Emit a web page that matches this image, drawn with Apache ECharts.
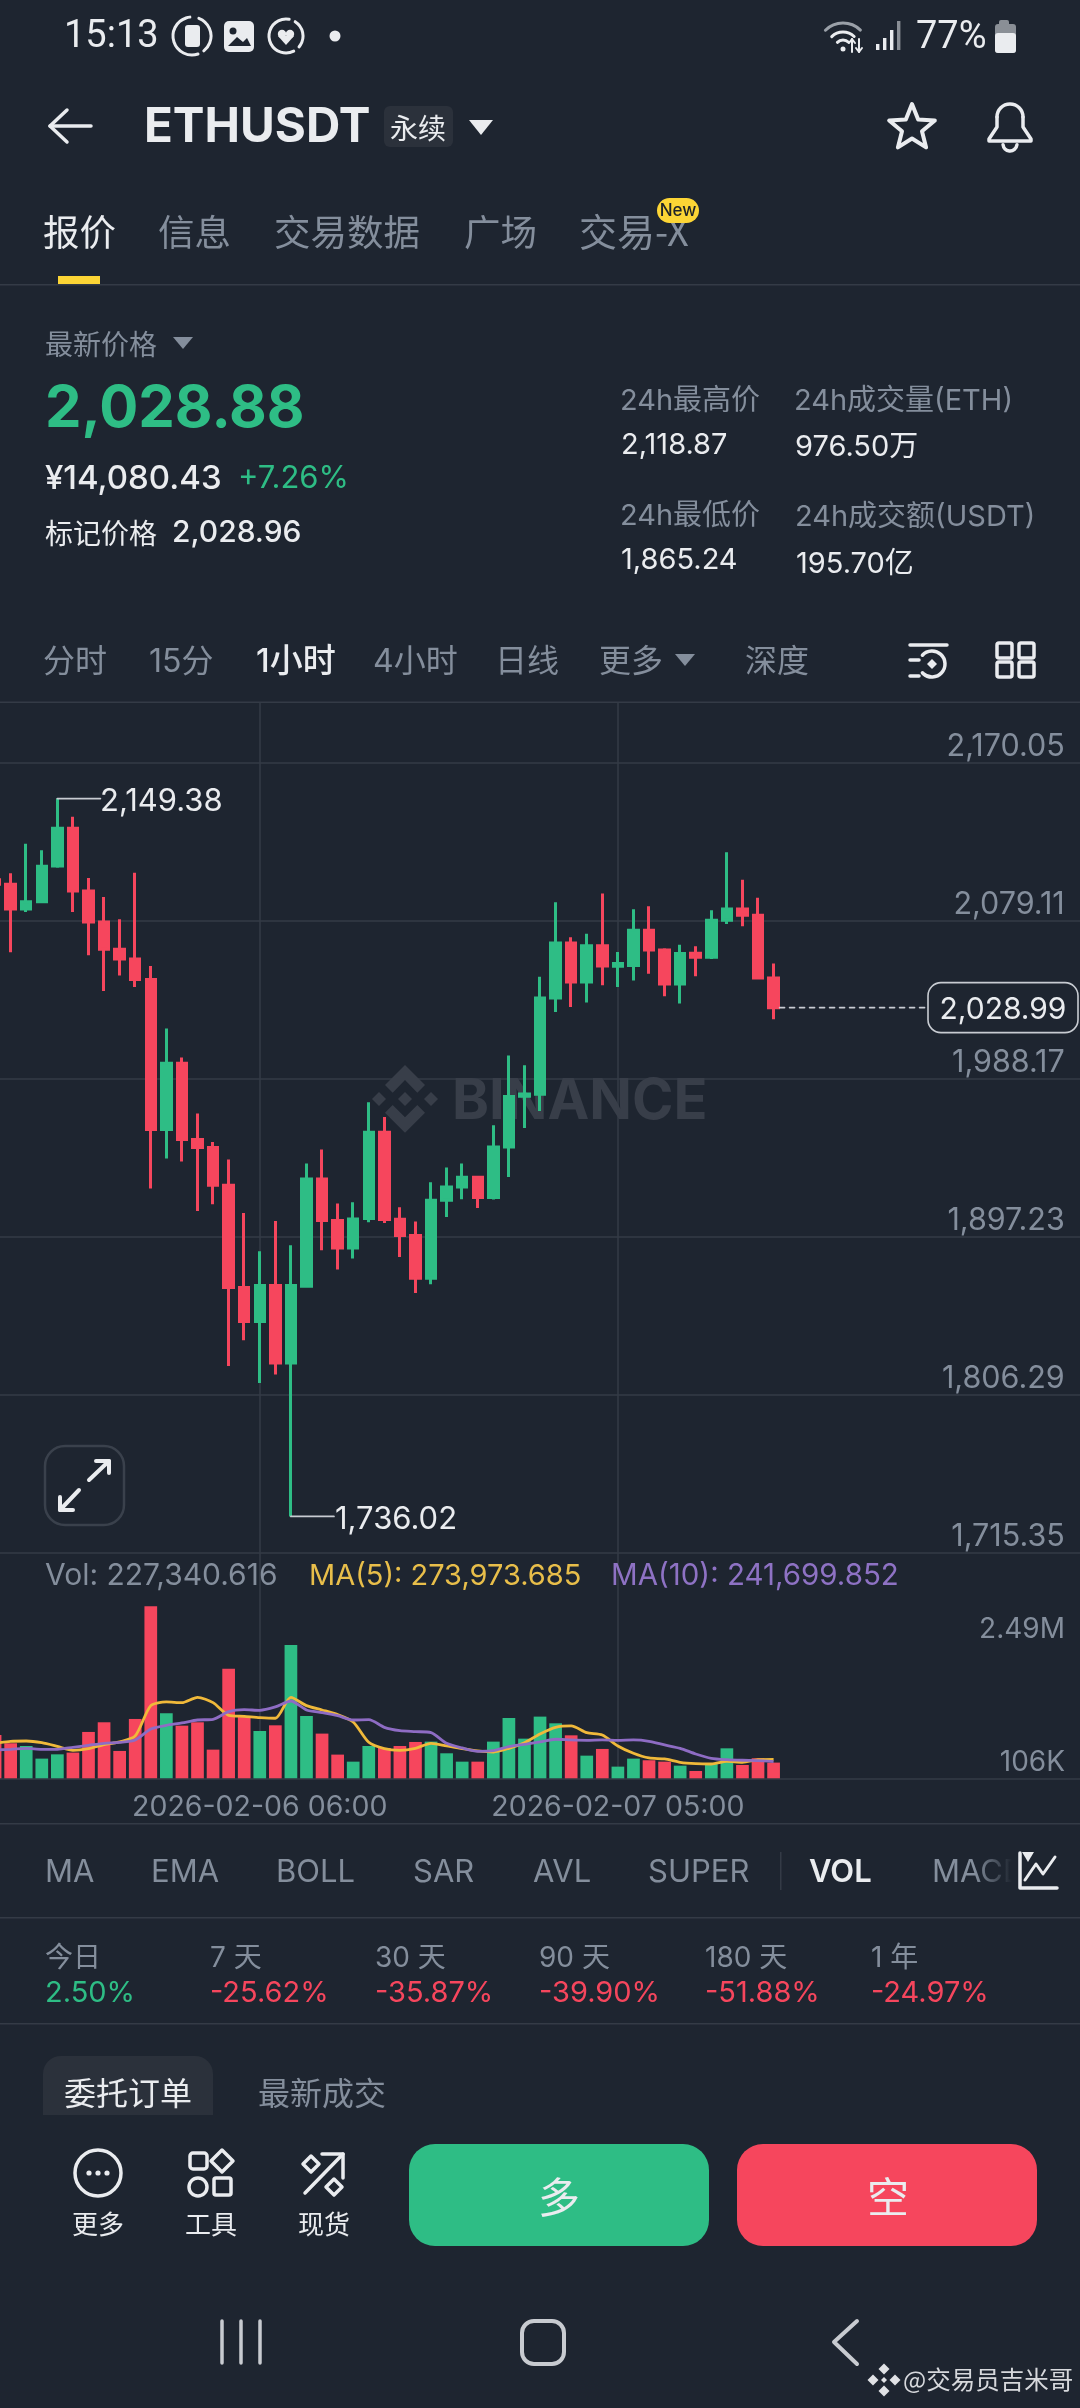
<!DOCTYPE html>
<html><head><meta charset="utf-8">
<style>html,body{margin:0;padding:0;background:#1E2530}#c{width:1080px;height:2408px}</style>
<script src="https://cdn.jsdelivr.net/npm/echarts@6/dist/echarts.min.js"></script>
</head><body><div id="c"></div>
<script>
const categories=['2026-02-05 13:00','2026-02-05 14:00','2026-02-05 15:00','2026-02-05 16:00','2026-02-05 17:00','2026-02-05 18:00','2026-02-05 19:00','2026-02-05 20:00','2026-02-05 21:00','2026-02-05 22:00','2026-02-05 23:00','2026-02-06 00:00','2026-02-06 01:00','2026-02-06 02:00','2026-02-06 03:00','2026-02-06 04:00','2026-02-06 05:00','2026-02-06 06:00','2026-02-06 07:00','2026-02-06 08:00','2026-02-06 09:00','2026-02-06 10:00','2026-02-06 11:00','2026-02-06 12:00','2026-02-06 13:00','2026-02-06 14:00','2026-02-06 15:00','2026-02-06 16:00','2026-02-06 17:00','2026-02-06 18:00','2026-02-06 19:00','2026-02-06 20:00','2026-02-06 21:00','2026-02-06 22:00','2026-02-06 23:00','2026-02-07 00:00','2026-02-07 01:00','2026-02-07 02:00','2026-02-07 03:00','2026-02-07 04:00','2026-02-07 05:00','2026-02-07 06:00','2026-02-07 07:00','2026-02-07 08:00','2026-02-07 09:00','2026-02-07 10:00','2026-02-07 11:00','2026-02-07 12:00','2026-02-07 13:00','2026-02-07 14:00','2026-02-07 15:00','2026-02-07 16:00','2026-02-07 17:00','2026-02-07 18:00','2026-02-07 19:00','2026-02-07 20:00','2026-02-07 21:00','2026-02-07 22:00','2026-02-07 23:00','2026-02-08 00:00','2026-02-08 01:00','2026-02-08 02:00','2026-02-08 03:00','2026-02-08 04:00','2026-02-08 05:00','2026-02-08 06:00','2026-02-08 07:00','2026-02-08 08:00','2026-02-08 09:00','2026-02-08 10:00','2026-02-08 11:00'];
const opens=[2102.7,2100.0,2085.83,2090.05,2110.59,2132.28,2096.19,2078.34,2062.6,2057.04,2045.14,1958.76,1996.96,1953.01,1948.4,1926.71,1867.78,1848.21,1868.94,1824.41,1868.55,1930.36,1906.36,1890.62,1907.52,1957.23,1907.13,1897.73,1873.16,1918.07,1925.75,1931.32,1919.61,1948.78,1977.96,1979.11,2034.58,2066.25,2043.79,2064.71,2052.81,2053.2,2073.54,2062.22,2042.64,2060.3,2058.0,2079.3,2085.83,2082.18,2046.1];
const closes=[2100.0,2085.83,2090.05,2110.4,2132.28,2096.19,2078.34,2062.6,2057.04,2045.14,1958.76,1996.96,1953.01,1948.4,1926.71,1867.78,1848.21,1868.94,1824.41,1868.94,1930.36,1906.36,1890.62,1907.32,1957.23,1906.94,1897.73,1873.16,1918.07,1925.75,1931.32,1919.61,1948.78,1977.77,1979.3,2034.58,2066.25,2043.79,2064.71,2053.01,2054.35,2073.54,2062.22,2042.64,2060.11,2058.0,2079.3,2085.83,2082.18,2046.1,2028.99];
const lows=[2098.5,2060.88,2084.1,2089.6,2109.63,2084.1,2059.15,2038.61,2047.44,2040.91,1924.79,1942.07,1940.34,1911.93,1915.77,1822.68,1837.46,1812.89,1817.69,1736.02,1868.17,1889.28,1878.15,1884.48,1905.4,1905.02,1885.44,1864.71,1869.7,1908.48,1918.65,1913.66,1918.46,1931.51,1959.72,1969.51,2026.52,2029.4,2031.89,2041.87,2040.91,2044.56,2048.59,2035.54,2031.32,2047.06,2057.04,2077.19,2075.85,2045.52,2022.3];
const highs=[2104.3,2106.37,2123.45,2119.61,2149.38,2139.0,2103.68,2092.74,2079.88,2106.75,2053.01,2016.92,2000.22,1967.98,1951.66,1941.49,1910.78,1888.71,1906.17,1892.16,1939.19,1947.25,1916.15,1916.92,1974.5,1966.06,1914.04,1905.79,1928.44,1936.88,1939.19,1931.89,1961.26,2001.37,1995.81,2046.86,2089.67,2069.51,2071.62,2094.66,2061.07,2085.64,2087.36,2063.18,2065.29,2064.33,2085.06,2118.46,2102.72,2092.35,2054.35];
const volumes=[627000,507000,468000,285000,347000,372000,671000,811000,396000,859000,2490000,941000,762000,811000,415000,1587000,902000,685000,767000,1930000,902000,647000,343000,241000,468000,439000,468000,526000,531000,362000,241000,241000,531000,873000,574000,893000,796000,622000,328000,425000,169000,285000,261000,241000,183000,106000,207000,434000,193000,290000,227341];
const ma5=[507000,536000,540000,516000,463000,405000,429000,487000,526000,613000,1052000,1105000,1095000,1172000,1095000,912000,897000,878000,869000,1172000,1052000,989000,922000,815000,521000,429000,405000,434000,507000,468000,429000,396000,381000,434000,516000,642000,738000,758000,661000,627000,468000,362000,294000,280000,232000,212000,207000,246000,232000,270000,273974];
const ma10=[410000,420000,434000,420000,420000,449000,478000,507000,521000,555000,714000,767000,801000,844000,854000,965000,994000,984000,1033000,1119000,989000,951000,907000,844000,849000,738000,690000,676000,661000,507000,439000,391000,400000,458000,492000,526000,565000,555000,550000,555000,550000,555000,536000,483000,434000,352000,290000,270000,261000,256000,241700];
const priceTicks=[1715.35,1806.29,1897.23,1988.17,2079.11,2170.05];
const timeLabelIdx=[17,40];

const BG='#1E2530',UP='#2EBD85',DOWN='#F6465D',GRAY='#848E9C',WHITE='#EAECEF',LINE='#343B46';
const NUM='Inter,"Noto Sans CJK SC",sans-serif', ROB='Roboto,sans-serif';
const chart=echarts.init(document.getElementById('c'),null,{renderer:'canvas'});
const cw=15.57,gl=-12.7;
const fmt=v=>v.toLocaleString('en-US',{minimumFractionDigits:2,maximumFractionDigits:2});
const gridLineMark={silent:true,symbol:'none',z:1,animation:false,label:{show:false},lineStyle:{color:LINE,width:1.5,type:'solid'},data:timeLabelIdx.map(i=>({xAxis:categories[i]}))};
chart.setOption({
 animation:false,backgroundColor:BG,
 grid:[{left:gl,width:cw*71,top:702,height:850.3,outerBoundsMode:'none',containLabel:false},{left:gl,width:cw*71,top:1552.3,height:226,outerBoundsMode:'none',containLabel:false}],
 xAxis:[
  {type:'category',gridIndex:0,data:categories,boundaryGap:true,axisLine:{show:false},axisTick:{show:false},axisLabel:{show:false},splitLine:{show:false}},
  {type:'category',gridIndex:1,data:categories,boundaryGap:true,axisLine:{show:true,lineStyle:{color:LINE,width:1.5}},axisTick:{show:false},splitLine:{show:false},
   axisLabel:{show:true,interval:(i)=>timeLabelIdx.includes(i),color:GRAY,fontFamily:NUM,fontSize:28.5,margin:14.5,hideOverlap:false}}
 ],
 yAxis:[
  {type:'value',gridIndex:0,position:'right',min:1715.35,max:2205.01,axisLine:{show:false},
   axisTick:{show:false,customValues:priceTicks},splitLine:{show:true,lineStyle:{color:LINE,width:1.5}},
   axisLabel:{show:true,inside:true,customValues:priceTicks,formatter:fmt,color:GRAY,fontFamily:NUM,fontSize:30.5,margin:28,verticalAlign:'bottom',lineHeight:31,hideOverlap:false,showMinLabel:true,showMaxLabel:true}},
  {type:'value',gridIndex:1,position:'right',min:0,max:3271576,show:false,splitLine:{show:false}}
 ],
 series:[
  {type:'candlestick',name:'ETHUSDT',xAxisIndex:0,yAxisIndex:0,barWidth:10,
   data:opens.map((o,i)=>[o,closes[i],lows[i],highs[i]]),
   itemStyle:{color:UP,color0:DOWN,borderColor:UP,borderColor0:DOWN,borderColorDoji:UP,borderWidth:3},
   markLine:gridLineMark},
  {type:'bar',name:'Vol',xAxisIndex:1,yAxisIndex:1,barWidth:12.7,z:2,
   data:volumes.map((v,i)=>({value:v,itemStyle:{color:closes[i]>=opens[i]?UP:DOWN}})),markLine:gridLineMark},
  {type:'line',name:'MA(5)',xAxisIndex:1,yAxisIndex:1,data:ma5,symbol:'none',smooth:0.25,z:3,lineStyle:{color:'#F0B93A',width:2.8}},
  {type:'line',name:'MA(10)',xAxisIndex:1,yAxisIndex:1,data:ma10,symbol:'none',smooth:0.25,z:4,lineStyle:{color:'#8E6CC4',width:2.8}}
 ]
});

// ---- chrome helpers
const E=[];
const T=(text,x,y,size,fill,o={})=>E.push({type:'text',z:o.z||6,style:{text,x,y,fill,font:`${o.w||400} ${size}px ${o.f||NUM}`,textAlign:o.a||'left',textVerticalAlign:'middle'}});
const R=(x,y,w,h,o={})=>E.push({type:'rect',z:o.z||5,shape:{x,y,width:w,height:h,r:o.r||0},style:{fill:o.fill||'none',stroke:o.stroke||'none',lineWidth:o.lw||1}});
const PL=(pts,o={})=>E.push({type:'polyline',z:o.z||6,shape:{points:pts},style:{fill:'none',stroke:o.stroke||'#EAECEF',lineWidth:o.lw||3,lineCap:'round',lineJoin:'round',lineDash:o.dash||null}});
const PG=(pts,o={})=>E.push({type:'polygon',z:o.z||6,shape:{points:pts},style:{fill:o.fill||'none',stroke:o.stroke||'none',lineWidth:o.lw||3,lineJoin:'round'}});
const C=(cx,cy,r,o={})=>E.push({type:'circle',z:o.z||6,shape:{cx,cy,r},style:{fill:o.fill||'none',stroke:o.stroke||'none',lineWidth:o.lw||3}});
const A=(cx,cy,r,s,e,o={})=>E.push({type:'arc',z:o.z||6,shape:{cx,cy,r,startAngle:s,endAngle:e,clockwise:true},style:{fill:'none',stroke:o.stroke||'#EAECEF',lineWidth:o.lw||3,lineCap:'round'}});
const D=(cx,cy,r,o={})=>PG([[cx,cy-r],[cx+r,cy],[cx,cy+r],[cx-r,cy]],o);
const CJK='"Noto Sans CJK SC",Inter,sans-serif';

// status bar
T('15:13',64,37,38,WHITE,{f:ROB});
A(192,36,19,-1.2,0.9,{lw:3});A(192,36,19,1.25,4.6,{lw:3});R(185,25,15,22,{r:3,fill:WHITE,z:6});
R(224,21,30,31,{r:5,fill:WHITE,z:6});C(233,31,3.5,{fill:BG,z:7});PG([[228,46],[237,37],[243,42],[247,38],[251,46]],{fill:BG,lw:0.1,z:7});
A(286,36,17,-1,0.7,{lw:3});A(286,36,17,1.1,4.9,{lw:3});C(282,34,4.2,{fill:WHITE});C(290,34,4.2,{fill:WHITE});PG([[278,36],[294,36],[286,45]],{fill:WHITE,lw:0.1});
C(335,36,5.5,{fill:WHITE});
A(843,48,25,-2.35,-0.8,{lw:3,stroke:'#9aa0a8'});A(843,48,16,-2.35,-0.8,{lw:3});A(843,48,8,-2.35,-0.8,{lw:3});C(843,49,2.5,{fill:WHITE});
PL([[852,39],[852,52]],{lw:2});PL([[849,43],[852,39],[855,43]],{lw:2});PL([[859,39],[859,52]],{lw:2});PL([[856,48],[859,52],[862,48]],{lw:2});
[[876,44],[883,38],[890,30],[897,21]].forEach((b,i)=>R(b[0],b[1],3.4,50-b[1],{fill:i==3?'#8a8f96':WHITE,z:6}));
T('77%',916,38,38,WHITE,{f:ROB});
R(999,20,10,6,{fill:'#8a8f96',z:6,r:2});R(995,24,21,29,{r:3,fill:'#8a8f96',z:6});R(995,33,21,20,{r:3,fill:WHITE,z:7});

// header
PL([[67,110],[50,126],[67,142]],{lw:3.5});PL([[50,126],[91,126]],{lw:3.5});
T('ETHUSDT',144,128,47.5,WHITE,{w:700});
R(384,106,69,41,{r:6,fill:'#2B313B'});T('永续',418,128,28,WHITE,{f:CJK,a:'center'});
PG([[469,120],[493,120],[481,135]],{fill:WHITE,lw:1});
const star=[];for(let k=0;k<10;k++){const r=k%2?10.5:24,a=-Math.PI/2+k*Math.PI/5;star.push([912+r*Math.cos(a),128+r*Math.sin(a)]);}
PG(star,{stroke:WHITE,lw:4});
A(1010,117,13,Math.PI,2*Math.PI,{lw:3.5});PL([[997,117],[997,127],[989,139],[989,141],[1031,141],[1031,139],[1023,127],[1023,117]],{lw:3.5});A(1010,144,7,0.1,Math.PI-0.1,{lw:3.5});

// tabs
T('报价',43,232,36.5,WHITE,{f:CJK});T('信息',158,232,36.5,GRAY,{f:CJK});T('交易数据',274,232,36.5,GRAY,{f:CJK});T('广场',464,232,36.5,GRAY,{f:CJK});T('交易-X',579,232,38,GRAY,{f:CJK});
R(657,198,42,25,{r:12.5,fill:'#FCD535',z:7});T('New',678,211,17,'#1E2329',{a:'center',z:8,w:500});
R(58,276,42,8,{fill:'#FCD535'});
R(0,284,1080,1.5,{fill:LINE});

// price block
T('最新价格',45,344,28,GRAY,{f:CJK});PG([[173,337],[193,337],[183,349]],{fill:GRAY,lw:1});
T('2,028.88',45,410,58,UP,{w:700});
T('¥14,080.43',45,479,33,WHITE,{w:500});T('+7.26%',238,479,31,UP);
T('标记价格',45,533,28,WHITE,{f:CJK});T('2,028.96',172,533,30,WHITE,{w:500});
T('24h最高价',620,401,29,GRAY);T('2,118.87',621,445,29,WHITE);
T('24h成交量(ETH)',794,401,29,GRAY);T('976.50万',795,447,29,WHITE);
T('24h最低价',620,516,29,GRAY);T('1,865.24',621,560,29,WHITE);
T('24h成交额(USDT)',795,517,29,GRAY);T('195.70亿',796,564,29,WHITE);

// interval row
[['分时',43],['15分',149],['4小时',373],['日线',495],['更多',599],['深度',745]].forEach(p=>T(p[0],p[1],662,32,GRAY));
T('1小时',256,662,33,WHITE,{w:500});
PG([[675,654],[695,654],[685,666]],{fill:GRAY,lw:1});
PL([[910,645],[947,645]],{lw:3.5});PL([[910,660],[919,660]],{lw:3.5});PL([[910,676],[919,676]],{lw:3.5});
A(932,664,13,-2.4,2.4,{lw:3.5});D(932,664,5,{fill:WHITE});
[[997,643],[1019,643],[997,662],[1019,662]].forEach(p=>R(p[0],p[1],15,15,{r:2,stroke:WHITE,lw:3.5,z:6}));

// chart frame
R(0,701.5,1080,1.5,{fill:LINE,z:1});
// watermark (behind the marks)
const WM='#383E49';
D(405,1099,7,{fill:WM,z:1});D(379,1099,7,{fill:WM,z:1});D(431,1099,7,{fill:WM,z:1});
const chev=(pts)=>pts.map(p=>[280+p[0]/3,1060+p[1]/3]);
PG(chev([[375,15],[435,75],[412,98],[375,60],[338,98],[315,75]]),{fill:WM,z:1,lw:0.1});
PG(chev([[375,218],[435,158],[412,135],[375,172],[338,135],[315,158]]),{fill:WM,z:1,lw:0.1});
T('BINANCE',452,1102,56,WM,{w:700,z:1});

// expand button
R(45,1446,79,79,{r:20,stroke:'#3A414C',lw:2.5,z:6});
PL([[89,1480],[109,1461]],{lw:4});PL([[96,1461],[109,1461],[109,1473]],{lw:4});
PL([[79,1490],[60,1510]],{lw:4});PL([[60,1497],[60,1510],[73,1510]],{lw:4});

// volume legend + axis notes
T('Vol: 227,340.616',45,1576,30,GRAY);T('MA(5): 273,973.685',309,1576,29,'#E8BE4A');T('MA(10): 241,699.852',611,1576,29.5,'#8E72C4');
T('2.49M',1065,1630,28,GRAY,{a:'right'});T('106K',1065,1763,28,GRAY,{a:'right'});

// indicator row
R(0,1823,1080,1.5,{fill:LINE});
[['MA',45],['EMA',151],['BOLL',276],['SAR',413],['AVL',533],['SUPER',648],['MACD',932]].forEach(p=>T(p[0],p[1],1873,31,GRAY));
T('VOL',809,1873,31,WHITE,{w:600});R(780,1852,1.5,38,{fill:LINE});
E.push({type:'rect',z:7,shape:{x:975,y:1845,width:105,height:50},style:{fill:new echarts.graphic.LinearGradient(0,0,1,0,[{offset:0,color:'rgba(30,37,48,0)'},{offset:.35,color:BG},{offset:1,color:BG}])}});
PL([[1020,1853],[1020,1888],[1057,1888]],{lw:3.5,z:8});PL([[1025,1880],[1036,1864],[1043,1874],[1055,1857]],{lw:3,z:8});PG([[1022,1852],[1034,1852],[1028,1862]],{fill:WHITE,lw:0.5,z:8});
R(0,1917,1080,1.5,{fill:LINE});
[['今日','2.50%',45,UP],['7 天','-25.62%',210,DOWN],['30 天','-35.87%',375,DOWN],['90 天','-39.90%',539,DOWN],['180 天','-51.88%',705,DOWN],['1 年','-24.97%',871,DOWN]].forEach(p=>{T(p[0],p[2],1959,28,GRAY);T(p[1],p[2],1993,29,p[3]);});
R(0,2023,1080,1.5,{fill:LINE});

// order tabs
R(43,2056,170,80,{r:[18,18,0,0],fill:'#2B313B'});
T('委托订单',64,2093,32,WHITE,{f:CJK});T('最新成交',258,2093,32,GRAY,{f:CJK});
E.push({type:'rect',z:7,shape:{x:0,y:2115,width:1080,height:293},style:{fill:BG}});

// bottom bar
C(98,2173,23,{stroke:WHITE,lw:3.5,z:8});[89,98,107].forEach(x=>C(x,2173,2.6,{fill:WHITE,z:8}));
T('更多',98,2224,26,WHITE,{a:'center',f:CJK,z:8});
R(190,2153,17,16,{r:3,stroke:WHITE,lw:3.5,z:8});D(222,2161,11,{stroke:WHITE,lw:3.5,z:8});C(198,2187,9,{stroke:WHITE,lw:3.5,z:8});R(214,2178,17,17,{r:2,stroke:WHITE,lw:3.5,z:8});
T('工具',211,2224,26,WHITE,{a:'center',f:CJK,z:8});
PL([[305,2193],[343,2154]],{lw:3.5,z:8});PL([[322,2154],[343,2154],[343,2178]],{lw:3.5,z:8});D(311,2164,8,{stroke:WHITE,lw:3.5,z:8});D(334,2187,8,{stroke:WHITE,lw:3.5,z:8});
T('现货',324,2224,26,WHITE,{a:'center',f:CJK,z:8});
R(409,2144,300,102,{r:26,fill:UP,z:8});T('多',559,2197,42,WHITE,{a:'center',f:CJK,z:9});
R(737,2144,300,102,{r:26,fill:DOWN,z:8});T('空',888,2197,42,WHITE,{a:'center',f:CJK,z:9});

// system nav
[222,241,260].forEach(x=>PL([[x,2321],[x,2363]],{stroke:'#C8CBD0',lw:3.5,z:8}));
R(522,2321,42,43,{r:12,stroke:'#C8CBD0',lw:4,z:8});
PL([[857,2321],[834,2342],[857,2364]],{stroke:'#C8CBD0',lw:4,z:8});
[[884,2369],[884,2391],[873,2380],[895,2380]].forEach(p=>D(p[0],p[1],5.5,{fill:'#E0E2E5',z:8}));D(884,2380,3,{fill:'#E0E2E5',z:8});
T('@交易员吉米哥',903,2380,24.5,'#D6D8DC',{f:CJK,z:8});

// callouts and the last-price guide, placed through the chart's own scales
const px=(i,v)=>chart.convertToPixel({gridIndex:0},[i,v]);
const hiIdx=highs.indexOf(Math.max(...highs)),loIdx=lows.indexOf(Math.min(...lows));
const hi=px(hiIdx,highs[hiIdx]),lo=px(loIdx,lows[loIdx]),last=px(closes.length-1,closes[closes.length-1]);
PL([hi,[hi[0]+43,hi[1]]],{stroke:'#C8CCD2',lw:1.8,z:6});T(fmt(highs[hiIdx]),100,hi[1]+3,31,WHITE);
PL([lo,[lo[0]+43,lo[1]]],{stroke:'#C8CCD2',lw:1.8,z:6});T(fmt(lows[loIdx]),335,lo[1]+3,31,WHITE);
PL([[last[0]+6,last[1]],[928,last[1]]],{stroke:'#C8CCD2',lw:1.6,dash:[5,5],z:6});
R(928,last[1]-25,150,50,{r:13,fill:BG,stroke:'#C8CCD2',lw:1.6,z:6});
T(fmt(closes[closes.length-1]),1003,last[1]+2,30,WHITE,{a:'center',z:7});

chart.setOption({graphic:{elements:E}});
</script></body></html>
